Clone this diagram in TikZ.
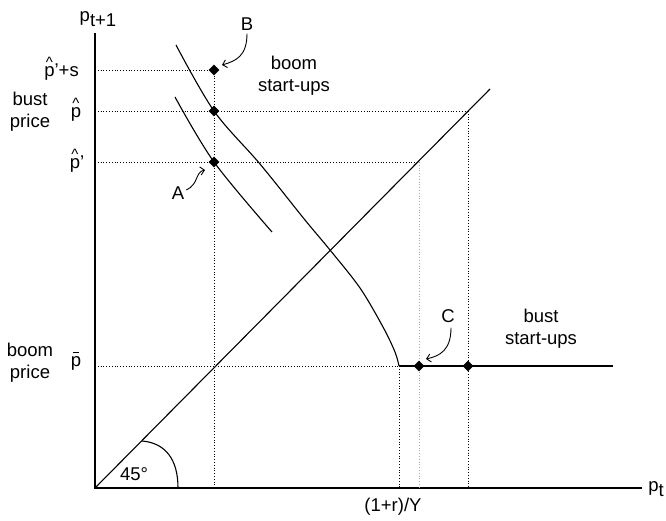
\documentclass[tikz,border=0pt]{standalone}
\usepackage{fontspec}
\setmainfont{Liberation Sans}
\usetikzlibrary{shapes.geometric,arrows.meta}
\newcommand{\hatp}{\leavevmode\vbox{\offinterlineskip\halign{\hfil##\hfil\cr{\fontsize{15}{15}\selectfont\symbol{94}}\cr\noalign{\kern0pt}p\cr}}}
\newcommand{\barp}{\leavevmode\vbox{\offinterlineskip\halign{\hfil##\hfil\cr\rule{6.5pt}{1.3pt}\cr\noalign{\kern3pt}p\cr}}}
\begin{document}
\begin{tikzpicture}[x=1pt,y=-1pt,
  lbl/.style={font=\fontsize{18.5}{22}\selectfont, inner sep=0pt, align=center},
  dotln/.style={dotted, line width=0.8pt},
  faintln/.style={dotted, line width=0.8pt, gray!70},
  curveln/.style={line width=1.1pt},
  axisln/.style={line width=1.5pt},
  dotmark/.style={diamond, fill=black, minimum size=11pt, inner sep=0pt},
  ptr/.style={line width=0.9pt, -{Straight Barb[length=4pt,width=8pt]}}]
\useasboundingbox (0,0) rectangle (666,521);
% axes
\coordinate (O) at (95,488);
\coordinate (ytop) at (95,33);
\coordinate (xend) at (642,488);
\draw[axisln] (ytop) -- (O) -- (xend);
\node[lbl] (pt1) at (98,19) {p\raisebox{-0.45ex}{t+1}};
\node[lbl] (pt) at (656,489) {p\raisebox{-0.45ex}{t}};
% coordinates on the axes
\coordinate (yB) at (95,70);
\coordinate (yPh) at (95,111);
\coordinate (yPp) at (95,162);
\coordinate (yPb) at (95,366);
\coordinate (xB) at (214,488);
\coordinate (xK) at (399,488);
\coordinate (xC) at (419,488);
\coordinate (xD) at (468,488);
% 45 degree line
\coordinate (diagEnd) at (490,89);
\coordinate (Q1) at (468,111);
\coordinate (Q2) at (419,162);
\draw[curveln] (O) -- (diagEnd);
% kink
\coordinate (K) at (399,366);
\coordinate (flatEnd) at (613,366);
% dotted guides
\draw[dotln] (yB) -- (214,70);
\draw[dotln] (yPh) -- (Q1);
\draw[dotln] (yPp) -- (Q2);
\draw[dotln] (yPb) -- (K);
\draw[dotln] (214,70) -- (xB);
\draw[dotln] (K) -- (xK);
\draw[faintln] (Q2) -- (xC);
\draw[dotln] (Q1) -- (xD);
% curves
\draw[curveln] plot[smooth, tension=0.55] coordinates {(176,45) (214,111) (260,164) (305,220) (330,250) (360,288) (383,327) (395,352) (399,366)};
\draw[curveln] plot[smooth, tension=0.55] coordinates {(175,97) (214,162) (272,232)};
\draw[curveln] (K) -- (flatEnd);
% angle
\draw[line width=1.1pt] (178,488) .. controls (178,460) and (166,443) .. (142,441);
\node[lbl] (ang) at (134,474) {45°};
% dots
\node[dotmark] (B) at (214,70) {};
\node[dotmark] (Ph) at (214,111) {};
\node[dotmark] (A) at (214,162) {};
\node[dotmark] (C) at (419,366) {};
\node[dotmark] (D) at (468,366) {};
% point labels and pointers
\node[lbl] (Blbl) at (247,24) {B};
\draw[ptr] (Blbl.south) ++(0,3) .. controls (247,56) and (236,61) .. (222,65);
\node[lbl] (Albl) at (178,193) {A};
\draw[ptr] (Albl.east) ++(2,-3) .. controls (199,184) and (195,172) .. (205,170);
\node[lbl] (Clbl) at (448,316) {C};
\draw[ptr] (Clbl.south) ++(3,5) .. controls (451,350) and (440,356) .. (426,359);
% tick labels
\node[lbl, anchor=base east] (tPs) at (79,77) {\hatp'+s};
\node[lbl, anchor=base] (tPh) at (76,118) {\hatp};
\node[lbl, anchor=base] (tPp) at (77,169) {\hatp'};
\node[lbl, anchor=base] (tPb) at (76,366) {\barp};
\node[lbl] (bustp) at (30,112) {bust\\price};
\node[lbl] (boomp) at (30,363) {boom\\price};
% region labels
\node[lbl] (boomsu) at (294,76) {boom\\start-ups};
\node[lbl] (bustsu) at (541,329) {bust\\start-ups};
\node[lbl] (ry) at (393,507) {(1+r)/Y};
\end{tikzpicture}
\end{document}
